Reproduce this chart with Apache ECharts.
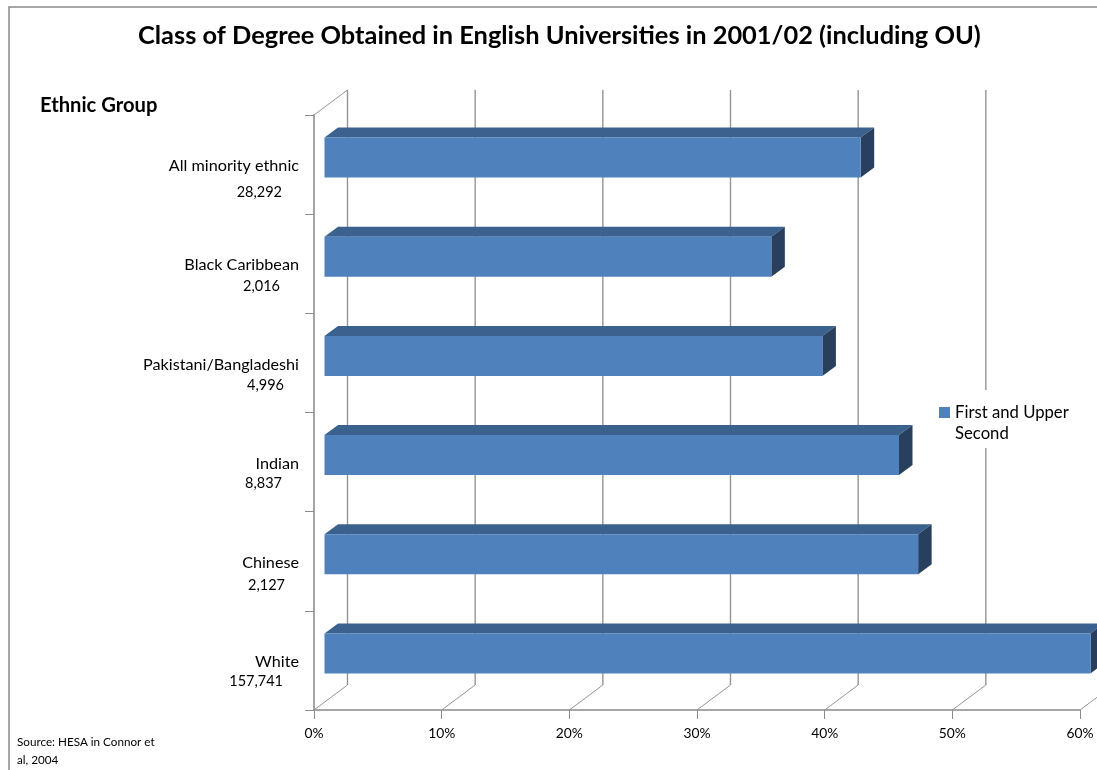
<!DOCTYPE html>
<html>
<head>
<meta charset="utf-8">
<title>Class of Degree Obtained in English Universities in 2001/02</title>
<style>
html, body { margin: 0; padding: 0; background: #fff; }
#chart { width: 1097px; height: 770px; }
</style>
<script src="https://cdn.jsdelivr.net/npm/echarts@6/dist/echarts.min.js"></script>
</head>
<body>
<div id="chart"></div>
<script>
// Share of graduates with a First or Upper Second, per ethnic group.
const categories = ['All minority ethnic', 'Black Caribbean', 'Pakistani/Bangladeshi', 'Indian', 'Chinese', 'White'];
const firstAndUpperSecond = [42, 35, 39, 45, 46.5, 60];
const studentCounts = ['28,292', '2,016', '4,996', '8,837', '2,127', '157,741'];
const seriesName = 'First and Upper Second';
const titleText = 'Class of Degree Obtained in English Universities in 2001/02 (including OU)';
const axisTitle = 'Ethnic Group';
const sourceLines = ['Source: HESA in Connor et', 'al, 2004'];
const percentTicks = [0, 10, 20, 30, 40, 50, 60];

// Right edge and baseline of each hand-placed student count under its category name.
const countAnchors = [[282, 192], [280, 286], [284, 385], [282, 483], [285, 585], [283, 681]];

// Oblique projection of the pseudo-3D box.
const WALL_DX = 33.5, WALL_DY = 25;
const BAR_OFFSET_X = 10.5, BAR_DEPTH_X = 13.5, BAR_DEPTH_Y = 10;
const BAR_ABOVE = 27, BAR_BELOW = 13;

const FONT = 'Lato, "Noto Sans", sans-serif';
const GRID_COLOR = '#949494';

const chart = echarts.init(document.getElementById('chart'), null, { renderer: 'canvas' });

function poly(points, fill) {
  return { type: 'polygon', shape: { points }, style: { fill, stroke: null } };
}

// Gridlines on the back wall, with their floor diagonals.
function renderWall(params, api) {
  const tick = api.value(0);
  const base = api.coord([tick, categories.length - 0.5]);
  const xAt = base[0];
  const top = params.coordSys.y;
  const floor = params.coordSys.y + params.coordSys.height;
  const line = (x1, y1, x2, y2, lineWidth) => ({
    type: 'line',
    shape: { x1, y1, x2, y2 },
    style: { stroke: GRID_COLOR, lineWidth }
  });
  const children = [
    line(xAt, floor, xAt + WALL_DX, floor - WALL_DY, 1),
    line(xAt + WALL_DX, floor - WALL_DY, xAt + WALL_DX, top - WALL_DY, 1.4)
  ];
  if (tick === 0) children.push(line(xAt, top, xAt + WALL_DX, top - WALL_DY, 1));
  return { type: 'group', children };
}

// Front, top and end faces of one bar.
function renderBar(params, api) {
  const start = api.coord([0, api.value(1)]);
  const end = api.coord([api.value(0), api.value(1)]);
  const x0 = start[0] + BAR_OFFSET_X;
  const x1 = end[0] + BAR_OFFSET_X;
  const y0 = start[1] - BAR_ABOVE;
  const y1 = start[1] + BAR_BELOW;
  return {
    type: 'group',
    children: [
      poly([[x0, y0], [x0 + BAR_DEPTH_X, y0 - BAR_DEPTH_Y], [x1 + BAR_DEPTH_X, y0 - BAR_DEPTH_Y], [x1, y0]], '#3b618f'),
      poly([[x1, y0], [x1 + BAR_DEPTH_X, y0 - BAR_DEPTH_Y], [x1 + BAR_DEPTH_X, y1 - BAR_DEPTH_Y], [x1, y1]], '#283f5e'),
      poly([[x0, y0], [x1, y0], [x1, y1], [x0, y1]], '#4f81bd')
    ]
  };
}

const graphics = [
  { type: 'rect', z: -10, silent: true, shape: { x: 9, y: 7, width: 1300, height: 1000 },
    style: { fill: '#fff', stroke: '#8a8a8a', lineWidth: 1.5 } },
  { type: 'text', left: 40, top: 95, style: { text: axisTitle, font: 'bold 20.2px ' + FONT, fill: '#000' } },
  { type: 'text', left: 17, top: 736, style: { text: sourceLines[0], font: '11.7px ' + FONT, fill: '#000' } },
  { type: 'text', left: 17, top: 754, style: { text: sourceLines[1], font: '11.7px ' + FONT, fill: '#000' } }
];
studentCounts.forEach((count, i) => {
  graphics.push({
    type: 'text',
    x: countAnchors[i][0],
    y: countAnchors[i][1],
    style: { text: count, font: '14.5px ' + FONT, fill: '#000', textAlign: 'right', textVerticalAlign: 'middle' }
  });
});

chart.setOption({
  animation: false,
  backgroundColor: '#fff',
  title: {
    text: titleText,
    left: 138,
    top: 23,
    padding: 0,
    textStyle: { fontFamily: FONT, fontWeight: 'bold', fontSize: 25.4, color: '#000' }
  },
  grid: { left: 314, top: 115, width: 766, height: 595, containLabel: false },
  xAxis: {
    type: 'value',
    min: 0,
    max: 60,
    interval: 10,
    splitLine: { show: false },
    axisLine: { show: true, onZero: false, lineStyle: { color: '#a6a6a6', width: 2 } },
    axisTick: { show: true, length: 9, lineStyle: { color: '#8c8c8c', width: 1 } },
    axisLabel: {
      margin: 17,
      fontFamily: FONT,
      fontSize: 13.8,
      color: '#000',
      hideOverlap: false,
      showMinLabel: true,
      showMaxLabel: true,
      formatter: v => v + '%'
    }
  },
  yAxis: {
    type: 'category',
    inverse: true,
    data: categories,
    splitLine: { show: false },
    axisLine: { show: true, onZero: false, lineStyle: { color: '#a6a6a6', width: 2 } },
    axisTick: { show: true, length: 9, lineStyle: { color: '#8c8c8c', width: 1 } },
    axisLabel: { margin: 15, interval: 0, fontFamily: FONT, fontSize: 16.2, color: '#000', verticalAlign: 'top', lineHeight: 3 }
  },
  legend: {
    show: true,
    left: 933,
    top: 390,
    orient: 'vertical',
    padding: [12, 14, 4, 6],
    itemWidth: 11,
    itemHeight: 38,
    itemGap: 0,
    backgroundColor: '#fff',
    icon: 'path://M0 3H11V14H0Z M0 0L0 0 M0 38L0 38',
    formatter: name => name.replace(' Second', '\nSecond'),
    textStyle: { fontFamily: FONT, fontSize: 16.7, lineHeight: 21, color: '#000' },
    data: [seriesName]
  },
  series: [
    {
      type: 'custom',
      name: 'wall',
      silent: true,
      z: 1,
      clip: false,
      renderItem: renderWall,
      encode: { x: 0 },
      data: percentTicks.map(t => [t])
    },
    {
      type: 'custom',
      name: seriesName,
      z: 2,
      clip: false,
      itemStyle: { color: '#4f81bd' },
      renderItem: renderBar,
      encode: { x: 0, y: 1 },
      data: firstAndUpperSecond.map((v, i) => [v, i])
    }
  ],
  graphic: { elements: graphics }
});
</script>
</body>
</html>
